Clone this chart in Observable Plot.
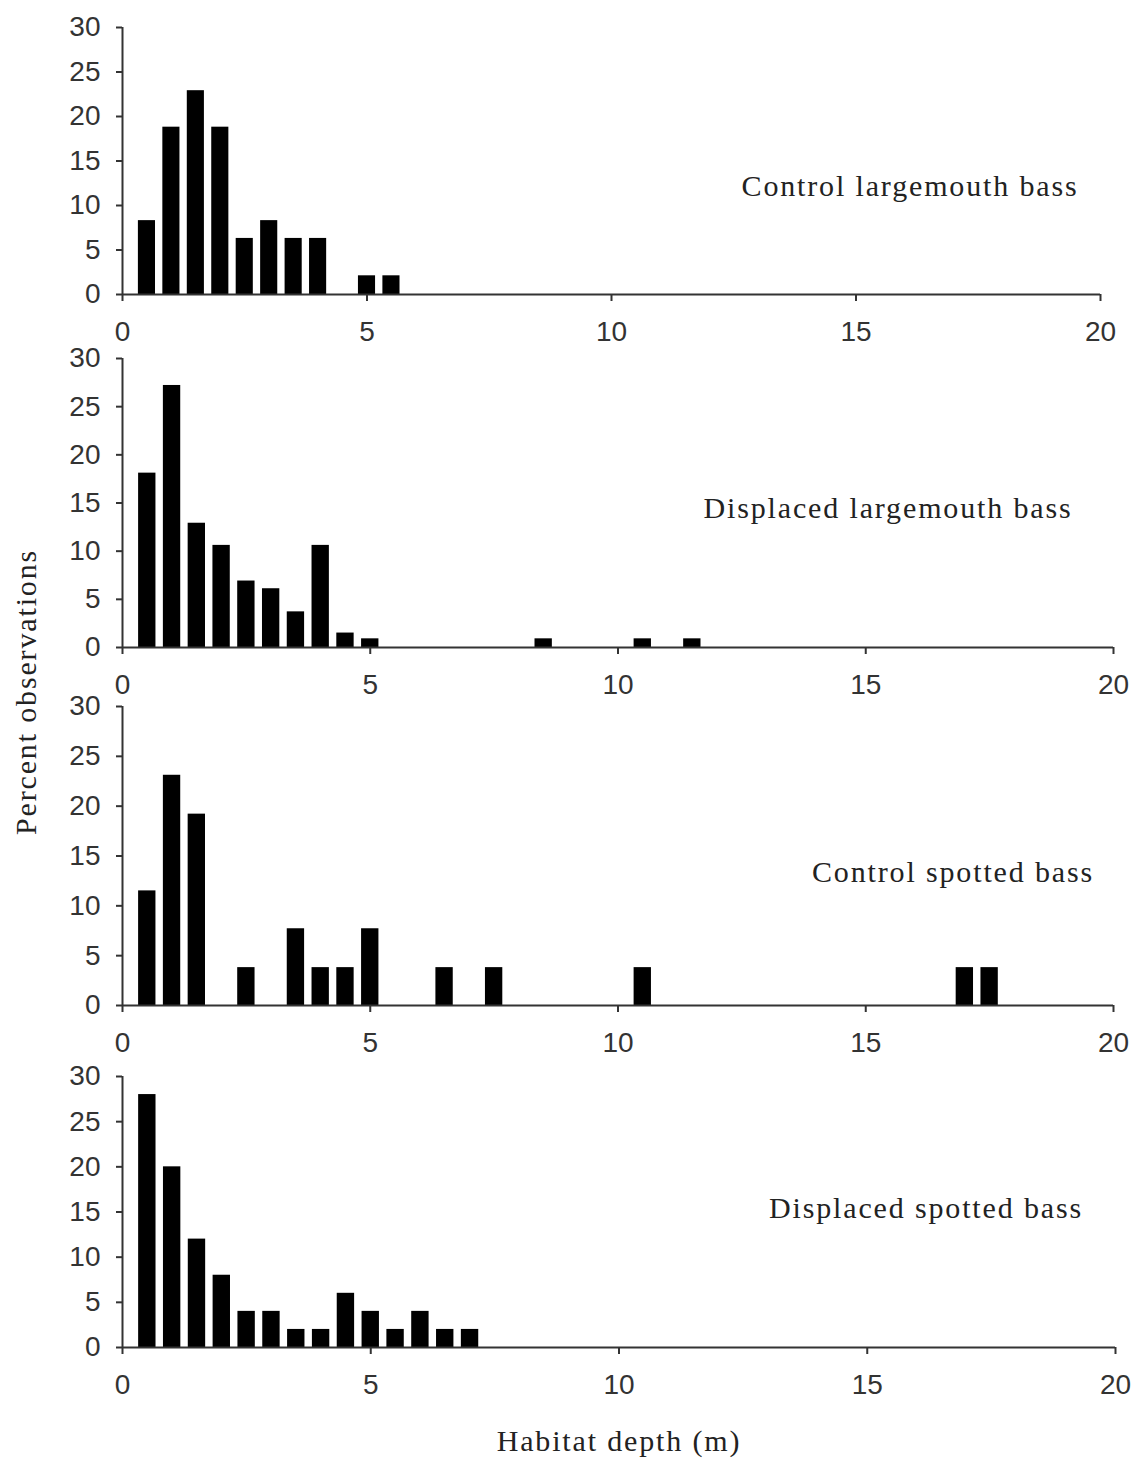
<!DOCTYPE html>
<html>
<head>
<meta charset="utf-8">
<script src="https://cdn.jsdelivr.net/npm/d3@7"></script>
<script src="https://cdn.jsdelivr.net/npm/@observablehq/plot@0.6"></script>
<style>
  html, body { margin: 0; padding: 0; background: #fff; }
  #wrap { position: relative; width: 1141px; height: 1460px; overflow: hidden; background: #fff; }
  .panel { position: absolute; left: 0; }
  .lbl { position: absolute; font-family: "Liberation Serif", "Times New Roman", serif; font-size: 30px; letter-spacing: 1.85px; color: #222; white-space: nowrap; line-height: 1; transform: translate(-50%, -50%); }
  .ylbl { transform: translate(-50%, -50%) rotate(-90deg); }
</style>
</head>
<body>
<div id="wrap"></div>
<script>
// ---- data ----
const panelNames = ["Control largemouth bass", "Displaced largemouth bass", "Control spotted bass", "Displaced spotted bass"];

const clbDepth = [0.5, 1, 1.5, 2, 2.5, 3, 3.5, 4, 5, 5.5];
const clbPct   = [8.3, 18.8, 22.9, 18.8, 6.3, 8.3, 6.3, 6.3, 2.1, 2.1];

const dlbDepth = [0.5, 1, 1.5, 2, 2.5, 3, 3.5, 4, 4.5, 5, 8.5, 10.5, 11.5];
const dlbPct   = [18.1, 27.2, 12.9, 10.6, 6.9, 6.1, 3.7, 10.6, 1.5, 0.9, 0.9, 0.9, 0.9];

const csbDepth = [0.5, 1, 1.5, 2.5, 3.5, 4, 4.5, 5, 6.5, 7.5, 10.5, 17, 17.5];
const csbPct   = [11.5, 23.1, 19.2, 3.8, 7.7, 3.8, 3.8, 7.7, 3.8, 3.8, 3.8, 3.8, 3.8];

const dsbDepth = [0.5, 1, 1.5, 2, 2.5, 3, 3.5, 4, 4.5, 5, 5.5, 6, 6.5, 7];
const dsbPct   = [28, 20, 12, 8, 4, 4, 2, 2, 6, 4, 2, 4, 2, 2];

const xTicks = [0, 5, 10, 15, 20];
const yTicks = [0, 5, 10, 15, 20, 25, 30];
const xTitle = "Habitat depth (m)";
const yTitle = "Percent observations";

// ---- layout ----
const wrap = document.getElementById("wrap");
const layouts = [
  {top: 0,    mt: 27, h: 344, mr: 41, depth: clbDepth, pct: clbPct, lx: 910, ly: 186},
  {top: 330,  mt: 28, h: 367, mr: 28, depth: dlbDepth, pct: dlbPct, lx: 888, ly: 508},
  {top: 680,  mt: 26, h: 375, mr: 28, depth: csbDepth, pct: csbPct, lx: 953, ly: 872},
  {top: 1050, mt: 26, h: 347, mr: 26, depth: dsbDepth, pct: dsbPct, lx: 926, ly: 1208}
];
const half = 0.175;
const axisColor = "#333";

layouts.forEach((L, i) => {
  const data = L.depth.map((d, k) => ({depth: d, pct: L.pct[k]}));
  const chart = Plot.plot({
    width: 1141,
    height: L.h,
    marginLeft: 122,
    marginRight: L.mr,
    marginTop: L.mt,
    marginBottom: 50,
    style: {fontFamily: "'Liberation Sans', Arial, sans-serif", fontSize: "28px", color: axisColor, background: "transparent", overflow: "visible"},
    x: {domain: [0, 20]},
    y: {domain: [0, 30]},
    marks: [
      Plot.rectY(data, {x1: d => d.depth - half, x2: d => d.depth + half, y1: 0, y2: "pct", fill: "black"}),
      Plot.ruleX([0], {stroke: axisColor, strokeWidth: 2}),
      Plot.ruleY([0], {stroke: axisColor, strokeWidth: 2}),
      Plot.axisX({ticks: xTicks, tickSize: 7, tickPadding: 20, label: null, strokeWidth: 2, tickFormat: d => String(d)}),
      Plot.axisY({ticks: yTicks, tickSize: 6, tickPadding: 16, label: null, strokeWidth: 2, tickFormat: d => String(d)})
    ]
  });
  chart.classList.add("panel");
  chart.style.top = L.top + "px";
  wrap.appendChild(chart);

  const t = document.createElement("div");
  t.className = "lbl";
  t.textContent = panelNames[i];
  t.style.left = L.lx + "px";
  t.style.top = L.ly + "px";
  wrap.appendChild(t);
});

const xt = document.createElement("div");
xt.className = "lbl";
xt.textContent = xTitle;
xt.style.left = "619px";
xt.style.top = "1441px";
wrap.appendChild(xt);

const yt = document.createElement("div");
yt.className = "lbl ylbl";
yt.textContent = yTitle;
yt.style.left = "26px";
yt.style.top = "692px";
wrap.appendChild(yt);
</script>
</body>
</html>
